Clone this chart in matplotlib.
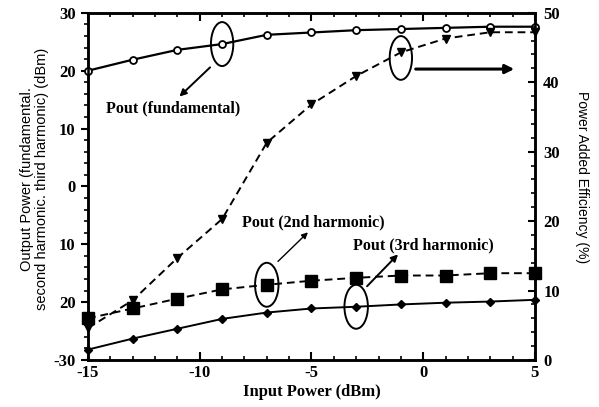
import matplotlib
matplotlib.use("Agg")
import matplotlib.pyplot as plt
from matplotlib.patches import Ellipse
from matplotlib.ticker import MultipleLocator

# Data
pin = [-15, -13, -11, -9, -7, -5, -3, -1, 1, 3, 5]
pout_fund = [20.0, 21.9, 23.6, 24.6, 26.2, 26.6, 27.0, 27.2, 27.4, 27.6, 27.6]
pout_2nd = [-22.8, -21.1, -19.4, -17.8, -17.0, -16.3, -15.8, -15.4, -15.4, -15.0, -15.0]
pout_3rd = [-28.2, -26.3, -24.6, -22.9, -21.8, -21.1, -20.8, -20.4, -20.1, -19.9, -19.6]
pae = [4.6, 8.6, 14.7, 20.3, 31.3, 36.8, 40.9, 44.3, 46.3, 47.2, 47.2]

left_ticks = [-30, -20, -10, 0, 10, 20, 30]
left_ticklabels = ["-30", "20", "10", "0", "10", "20", "30"]
right_ticks = [0, 10, 20, 30, 40, 50]
x_ticks = [-15, -10, -5, 0, 5]

serif = ["Liberation Serif", "DejaVu Serif"]
sans = ["Liberation Sans", "DejaVu Sans"]

fig = plt.figure(figsize=(5.99, 4.07), dpi=100)
ax = fig.add_axes([0.147, 0.1155, 0.746, 0.853])
ax2 = ax.twinx()

dash = (0, (4, 2.5))

ax.plot(pin, pout_fund, color="black", lw=1.6, marker="o", ms=5,
        mfc="white", mec="black", mew=1.3, clip_on=False, zorder=5)
ax.plot(pin, pout_2nd, color="black", lw=1.4, ls=dash, marker="s", ms=8,
        mfc="black", mec="black", clip_on=False, zorder=5)
ax.plot(pin, pout_3rd, color="black", lw=1.4, marker="D", ms=4.5,
        mfc="black", mec="black", clip_on=False, zorder=5)
ax2.plot(pin, pae, color="black", lw=1.4, ls=dash, marker="v", ms=6,
         mfc="black", mec="black", clip_on=False, zorder=5)

ax.set_xlim(-15, 5)
ax.set_ylim(-30, 30)
ax2.set_ylim(0, 50)

ax.set_xticks(x_ticks)
ax.set_xticklabels([str(v) for v in x_ticks])
ax.xaxis.set_minor_locator(MultipleLocator(1))
ax.set_yticks(left_ticks)
ax.set_yticklabels(left_ticklabels)
ax.yaxis.set_minor_locator(MultipleLocator(2))
ax2.set_yticks(right_ticks)
ax2.yaxis.set_minor_locator(MultipleLocator(2))

ax.tick_params(axis="x", which="both", direction="in", top=True, bottom=True)
ax.tick_params(axis="x", which="major", length=6, width=1.5)
ax.tick_params(axis="x", which="minor", length=3, width=1.2)
ax.tick_params(axis="y", which="major", direction="out", length=5, width=1.5, pad=4)
ax.tick_params(axis="y", which="minor", direction="out", length=3, width=1.2)
ax2.tick_params(axis="y", which="major", direction="in", length=5, width=1.5, pad=6)
ax2.tick_params(axis="y", which="minor", direction="in", length=3, width=1.2)

for a in (ax, ax2):
    for s in a.spines.values():
        s.set_linewidth(1.8)
    for lab in a.get_xticklabels() + a.get_yticklabels():
        lab.set_family(serif)
        lab.set_fontweight("bold")
        lab.set_fontsize(12)

ax.set_xlabel("Input Power (dBm)", family=serif, fontweight="bold", fontsize=12, labelpad=2)
fig.text(0.058, 0.56, "Output Power (fundamental.\nsecond harmonic. third harmonic) (dBm)",
         family=sans, fontsize=10.5, rotation=90, ha="center", va="center",
         multialignment="center", linespacing=1.05)
fig.text(0.972, 0.565, "Power Added Efficiency (%)", family=sans, fontsize=10,
         rotation=-90, ha="center", va="center")

# Annotations: ellipses, arrows and labels
ell_kw = dict(fill=False, ec="black", lw=1.4, zorder=6)
ax.add_patch(Ellipse((-9, 24.6), 1.0, 7.6, **ell_kw))
ax.add_patch(Ellipse((-7, -17.0), 1.05, 7.6, **ell_kw))
ax.add_patch(Ellipse((-3, -20.8), 1.05, 7.6, **ell_kw))
ax2.add_patch(Ellipse((-1, 43.5), 1.0, 6.3, **ell_kw))

arrow_kw = dict(arrowstyle="-|>", color="black", lw=1.4, mutation_scale=10)
ax.annotate("", xy=(-11.0, 15.2), xytext=(-9.45, 20.9), arrowprops=arrow_kw)
ax.text(-11.2, 13.4, "Pout (fundamental)", family=serif, fontweight="bold",
        fontsize=11.5, ha="center", va="center")

ax.annotate("", xy=(-5.07, -7.6), xytext=(-6.59, -13.3),
            arrowprops=dict(arrowstyle="-|>", color="black", lw=1.0, mutation_scale=9))
ax.text(-8.1, -6.2, "Pout (2nd harmonic)", family=serif, fontweight="bold",
        fontsize=11.5, ha="left", va="center")

ax.annotate("", xy=(-1.04, -11.4), xytext=(-2.6, -17.6), arrowprops=arrow_kw)
ax.text(-3.14, -10.2, "Pout (3rd harmonic)", family=serif, fontweight="bold",
        fontsize=11.5, ha="left", va="center")

ax2.annotate("", xy=(4.2, 41.9), xytext=(-0.46, 41.9),
             arrowprops=dict(arrowstyle="-|>", color="black", lw=2.2, mutation_scale=13))

fig.savefig("out.png", dpi=100)
